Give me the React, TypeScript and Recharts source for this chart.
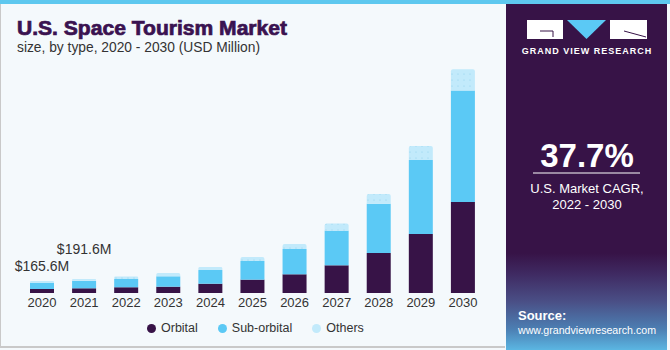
import { BarChart, Bar, XAxis, YAxis, LabelList } from 'recharts'

const years = ['2020', '2021', '2022', '2023', '2024', '2025', '2026', '2027', '2028', '2029', '2030']
const orbital = [55, 65, 79, 87, 128, 184, 258, 382, 552, 814, 1256]
const subOrbital = [83, 103, 115, 143, 189, 258, 349, 478, 680, 1021, 1536]
const others = [27.6, 23.6, 32, 46, 41, 55, 69, 97, 134, 193, 295]
const totalLabels = ['$165.6M', '$191.6M']

const PURPLE = '#371347'
const BLUE = '#5bc9f5'
const PALE = '#c2eafb'

const data = years.map((year, i) => ({
  year,
  orbital: orbital[i],
  subOrbital: subOrbital[i],
  others: others[i],
}))

const legendItems = [
  { name: 'Orbital', color: PURPLE },
  { name: 'Sub-orbital', color: BLUE },
  { name: 'Others', color: PALE },
]

// only the first two years carry a total label, staggered above the bars
const TotalLabel = (props: any) => {
  const { x, y, width, index } = props
  if (index > 1) return null
  const lift = index === 0 ? 10 : 25
  return (
    <text x={x + width / 2} y={y - lift} textAnchor="middle" fontSize={14} fill="#333" fontFamily="Liberation Sans, Arial, sans-serif">
      {totalLabels[index]}
    </text>
  )
}

export default function App() {
  return (
    <div style={{ position: 'absolute', left: 0, top: 0, width: 670, height: 350, background: '#f4f9fc', overflow: 'hidden', fontFamily: 'Liberation Sans, Arial, sans-serif' }}>
      <div style={{ position: 'absolute', left: 0, top: 0, width: 670, height: 4, background: '#5ec8ef' }} />
      <div style={{ position: 'absolute', left: 0, top: 4, width: 505, height: 344, borderLeft: '1px solid #c9c9c9', borderBottom: '2px solid #c9c9c9', boxSizing: 'border-box' }} />

      <svg width={505} height={70} style={{ position: 'absolute', left: 0, top: 0 }}>
        <text x={17} y={35} fontSize={20} fontWeight="bold" fill="#3a1250" stroke="#3a1250" strokeWidth={0.7} textLength={270} lengthAdjust="spacingAndGlyphs">
          U.S. Space Tourism Market
        </text>
        <text x={17} y={52} fontSize={14} fill="#333" textLength={243} lengthAdjust="spacingAndGlyphs">
          size, by type, 2020 - 2030 (USD Million)
        </text>
      </svg>

      <div style={{ position: 'absolute', left: 0, top: 0 }}>
        <BarChart width={505} height={350} data={data} margin={{ top: 61, right: 21, bottom: 27, left: 21 }}>
          <defs>
            <pattern id="dots" width={6} height={6} patternUnits="userSpaceOnUse">
              <rect width={6} height={6} fill={PALE} />
              <circle cx={2} cy={2} r={0.6} fill="#8fd3ee" />
            </pattern>
          </defs>
          <XAxis dataKey="year" axisLine={false} tickLine={false} tickSize={0} tickMargin={5} height={30}
            tick={{ fontSize: 13, fill: '#333' }} interval={0} />
          <YAxis hide domain={[0, 3200]} />
          <Bar dataKey="orbital" stackId="a" fill={PURPLE} barSize={24} isAnimationActive={false} />
          <Bar dataKey="subOrbital" stackId="a" fill={BLUE} barSize={24} isAnimationActive={false} />
          <Bar dataKey="others" stackId="a" fill="url(#dots)" barSize={24} radius={[2, 2, 0, 0]} isAnimationActive={false}>
            <LabelList dataKey="others" content={TotalLabel} />
          </Bar>
        </BarChart>
      </div>

      <div style={{ position: 'absolute', left: 147, top: 320, display: 'flex', fontSize: 12.5, color: '#333', lineHeight: '16px' }}>
        {legendItems.map((it, i) => (
          <div key={it.name} style={{ display: 'flex', alignItems: 'center', marginLeft: i === 0 ? 0 : 20 }}>
            <span style={{ width: 9, height: 9, borderRadius: 5, background: it.color, marginRight: 5 }} />
            <span>{it.name}</span>
          </div>
        ))}
      </div>

      <div style={{ position: 'absolute', left: 506, top: 4, width: 161, height: 346,
        background: `linear-gradient(to bottom, ${PURPLE} 0%, ${PURPLE} 72%, #3f2a62 78%, #4a4f86 86%, #4c7fb3 94%, #5bb6e2 100%)` }}>
        <svg width={161} height={346} style={{ position: 'absolute', left: 0, top: 0 }}>
          <rect x={21} y={16} width={36} height={19} fill="#fff" />
          <path d="M 34 27 L 47 27 L 47 33" stroke={PURPLE} strokeWidth={1} fill="none" />
          <polygon points="61,16 100,16 80.5,35" fill={BLUE} />
          <rect x={104} y={16} width={37} height={19} fill="#fff" />
          <path d="M 118 27 L 140 33" stroke={PURPLE} strokeWidth={1} fill="none" />
          <text x={81} y={50} textAnchor="middle" fontSize={9} fontWeight="bold" fill="#fff" letterSpacing={1}>GRAND VIEW RESEARCH</text>

          <text x={81} y={163} textAnchor="middle" fontSize={33} fontWeight="bold" fill="#fff">37.7%</text>
          <line x1={27} x2={134} y1={169} y2={169} stroke="#fff" strokeWidth={1} />
          <text x={81} y={189} textAnchor="middle" fontSize={13} fill="#fff">U.S. Market CAGR,</text>
          <text x={81} y={205} textAnchor="middle" fontSize={13} fill="#fff">2022 - 2030</text>

          <text x={12} y={316} fontSize={13} fontWeight="bold" fill="#fff">Source:</text>
          <text x={12} y={330} fontSize={11} fill="#fff" textLength={138} lengthAdjust="spacingAndGlyphs">www.grandviewresearch.com</text>
        </svg>
      </div>
    </div>
  )
}
